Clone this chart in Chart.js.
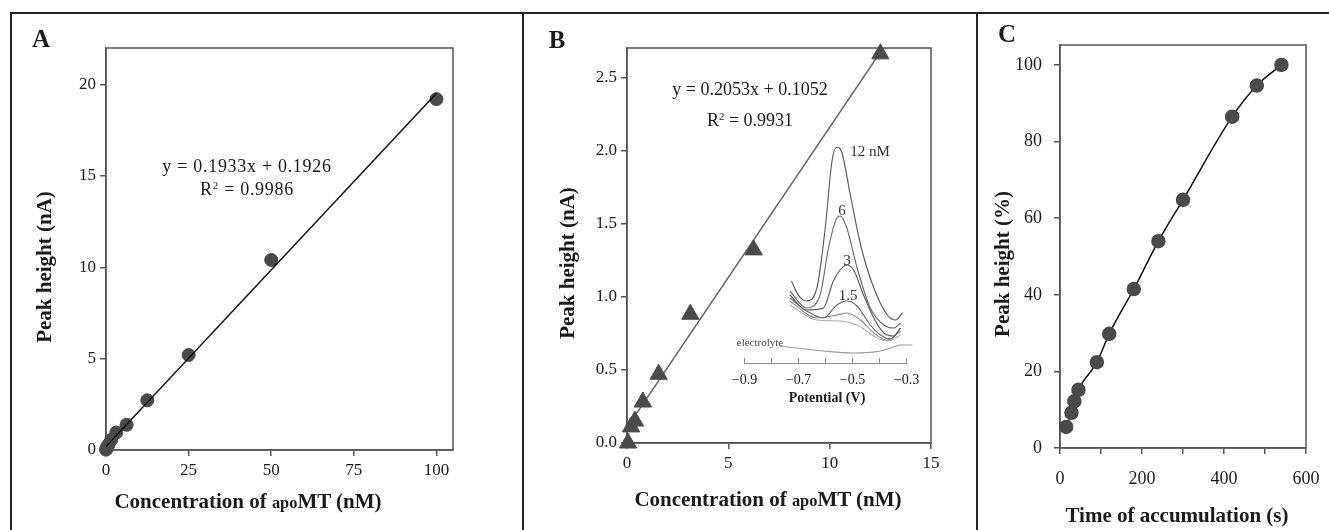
<!DOCTYPE html>
<html>
<head>
<meta charset="utf-8">
<script src="https://cdn.jsdelivr.net/npm/chart.js@4.4.1/dist/chart.umd.min.js"></script>
<style>
  html, body { margin: 0; padding: 0; background: #fff; }
  #wrap { position: relative; width: 1329px; height: 530px; overflow: hidden; font-family: "Liberation Serif", "Times New Roman", serif; color: #1a1a1a; }
  canvas { position: absolute; }
  .rule { position: absolute; background: #222; }
  .txt { position: absolute; transform: translate(-50%, -50%); white-space: nowrap; line-height: 1; }
  .ytitle { transform: translate(-50%, -50%) rotate(-90deg); }
  .bold { font-weight: bold; }
  .apo { font-size: 0.78em; }
  sup { font-size: 0.6em; vertical-align: 0.55em; line-height: 0; }
</style>
</head>
<body>
<div id="wrap">
  <div class="rule" style="left:11px; top:12px; width:1318px; height:2px;"></div>
  <div class="rule" style="left:10px; top:12px; width:2px; height:518px;"></div>
  <div class="rule" style="left:522px; top:12px; width:2px; height:518px;"></div>
  <div class="rule" style="left:976px; top:12px; width:2px; height:518px;"></div>

  <canvas id="chart-a" width="523" height="530" style="left:0; top:0;"></canvas>
  <canvas id="chart-b" width="454" height="530" style="left:523px; top:0;"></canvas>
  <canvas id="chart-inset" width="250" height="300" style="left:690px; top:120px;"></canvas>
  <canvas id="chart-c" width="352" height="530" style="left:977px; top:0;"></canvas>

  <!-- panel A texts -->
  <div class="txt bold" style="left:41px; top:38px; font-size:25px;">A</div>
  <div class="txt" style="left:247px; top:166px; font-size:18px; letter-spacing:0.7px;">y = 0.1933x + 0.1926</div>
  <div class="txt" style="left:247px; top:189px; font-size:18px; letter-spacing:0.7px;">R<sup>2</sup> = 0.9986</div>
  <div class="txt bold ytitle" style="left:44px; top:267px; font-size:21px;">Peak height (nA)</div>
  <div class="txt bold" style="left:248px; top:501px; font-size:21px;">Concentration of <span class="apo">apo</span>MT (nM)</div>

  <!-- panel B texts -->
  <div class="txt bold" style="left:557px; top:39px; font-size:25px;">B</div>
  <div class="txt" style="left:750px; top:89px; font-size:18px;">y = 0.2053x + 0.1052</div>
  <div class="txt" style="left:750px; top:120px; font-size:18px;">R<sup>2</sup> = 0.9931</div>
  <div class="txt bold ytitle" style="left:567px; top:263px; font-size:21px;">Peak height (nA)</div>
  <div class="txt bold" style="left:768px; top:499px; font-size:21px;">Concentration of <span class="apo">apo</span>MT (nM)</div>
  <div class="txt" style="left:870px; top:151px; font-size:15px; color:#333;">12 nM</div>
  <div class="txt" style="left:842px; top:210px; font-size:15px; color:#333;">6</div>
  <div class="txt" style="left:847px; top:260px; font-size:15px; color:#333;">3</div>
  <div class="txt" style="left:848px; top:295px; font-size:15px; color:#333;">1.5</div>
  <div class="txt" style="left:760px; top:342px; font-size:11px; color:#444;">electrolyte</div>
  <div class="txt bold" style="left:827px; top:398px; font-size:14px;">Potential (V)</div>

  <!-- panel C texts -->
  <div class="txt bold" style="left:1007px; top:33px; font-size:25px;">C</div>
  <div class="txt bold ytitle" style="left:1002px; top:264px; font-size:21px;">Peak height (%)</div>
  <div class="txt bold" style="left:1177px; top:515px; font-size:21px;">Time of accumulation (s)</div>
</div>

<script>
  // --- A: calibration 0-100 nM
  const concA = [0, 0.2, 0.39, 0.78, 1.56, 3.125, 6.25, 12.5, 25, 50, 100];
  const peakA = [0.02, 0.1, 0.18, 0.3, 0.55, 0.96, 1.38, 2.72, 5.2, 10.4, 19.2];
  const fitA_x = [0, 100];
  const fitA_y = [0.19, 19.52];
  const ticksA_x = [0, 25, 50, 75, 100];
  const ticksA_y = [0, 5, 10, 15, 20];

  // --- B: low range calibration
  const concB = [0.05, 0.2, 0.39, 0.78, 1.56, 3.125, 6.25, 12.5];
  const peakB = [0.0, 0.11, 0.15, 0.28, 0.47, 0.88, 1.32, 2.66];
  const fitB_x = [0, 12.64];
  const fitB_y = [0.105, 2.7];

  // --- B inset: voltammograms (current in arbitrary units)
  const pot12 = [-0.726, -0.701, -0.670, -0.632, -0.601, -0.576, -0.558, -0.539, -0.508, -0.470, -0.421, -0.371, -0.340, -0.315];
  const cur12 = [8.2, 6.8, 6.2, 7.5, 13.5, 20.2, 21.6, 21.0, 16.8, 11.8, 7.5, 4.8, 4.3, 5.0];
  const pot6 = [-0.732, -0.670, -0.620, -0.589, -0.558, -0.546, -0.521, -0.483, -0.434, -0.384, -0.347, -0.322];
  const cur6 = [7.2, 5.5, 6.8, 11.5, 14.5, 14.7, 13.5, 9.5, 5.5, 3.8, 3.5, 4.0];
  const pot3 = [-0.732, -0.670, -0.608, -0.571, -0.546, -0.521, -0.496, -0.459, -0.421, -0.384, -0.347, -0.322];
  const cur3 = [6.8, 5.3, 5.5, 8.2, 9.3, 9.8, 9.3, 6.8, 4.5, 3.0, 2.7, 3.5];
  const pot15 = [-0.732, -0.670, -0.608, -0.558, -0.521, -0.483, -0.434, -0.396, -0.359, -0.322];
  const cur15 = [6.5, 5.2, 4.5, 5.8, 6.2, 5.7, 3.8, 2.8, 2.4, 3.5];
  const pot08 = [-0.732, -0.633, -0.558, -0.521, -0.471, -0.421, -0.371, -0.322];
  const cur08 = [6.2, 4.5, 4.8, 5.0, 4.3, 3.0, 2.3, 3.2];
  const pot04 = [-0.732, -0.633, -0.546, -0.483, -0.421, -0.371, -0.322];
  const cur04 = [5.8, 4.3, 4.2, 3.8, 2.7, 2.2, 2.8];
  const potEl = [-0.769, -0.608, -0.496, -0.396, -0.359, -0.322, -0.278];
  const curEl = [1.7, 1.2, 1.0, 1.2, 1.5, 1.8, 1.8];
  const insetTicks = [-0.9, -0.8, -0.7, -0.6, -0.5, -0.4, -0.3];
  const insetLabels = [-0.9, -0.7, -0.5, -0.3];

  // --- C: accumulation time
  const timeC = [15, 28, 35, 45, 90, 120, 180, 240, 300, 420, 480, 540];
  const peakC = [5.5, 9.2, 12.2, 15.2, 22.4, 29.8, 41.5, 54, 64.8, 86.5, 94.6, 100];
  const ticksC_x = [0, 100, 200, 300, 400, 500, 600];
  const labelsC_x = [0, 200, 400, 600];
  const ticksC_y = [0, 20, 40, 60, 80, 100];

  Chart.defaults.font.family = '"Liberation Serif", "Times New Roman", serif';
  Chart.defaults.color = "#1a1a1a";
  Chart.defaults.animation = false;
  Chart.defaults.plugins.legend.display = false;
  Chart.defaults.plugins.tooltip.enabled = false;

  const AXIS_COLOR = "#555";

  const zip = (xs, ys) => xs.map((x, i) => ({ x, y: ys[i] }));

  // box around the plot area (top + right sides)
  const boxFrame = {
    id: "boxFrame",
    beforeDatasetsDraw(chart) {
      const { ctx, chartArea: a } = chart;
      ctx.save();
      ctx.strokeStyle = AXIS_COLOR;
      ctx.lineWidth = 1.5;
      ctx.strokeRect(a.left, a.top, a.right - a.left, a.bottom - a.top);
      ctx.restore();
    },
  };

  // fixed axis sizes so the plot area lands where the figure has it
  function fixSize(size) {
    return (scale) => {
      if (scale.isHorizontal()) scale.height = size;
      else scale.width = size;
      scale.paddingLeft = scale.paddingRight = 0;
      scale.paddingTop = scale.paddingBottom = 0;
    };
  }

  function pinTicks(values) {
    return (scale) => {
      scale.ticks = values.map((v) => ({ value: v }));
    };
  }

  function axis(min, max, tickValues, opts) {
    return {
      type: "linear",
      min,
      max,
      afterBuildTicks: pinTicks(tickValues),
      afterFit: fixSize(opts.size),
      ticks: {
        autoSkip: false,
        maxRotation: 0,
        padding: opts.pad,
        font: { size: opts.font },
        color: "#1a1a1a",
        callback: opts.cb || ((v) => v),
      },
      grid: {
        drawOnChartArea: false,
        drawTicks: true,
        tickLength: 6,
        color: AXIS_COLOR,
        lineWidth: 1.5,
      },
      border: { color: AXIS_COLOR, width: 1.5 },
    };
  }

  // panel A
  new Chart(document.getElementById("chart-a"), {
    type: "scatter",
    data: {
      datasets: [
        {
          data: zip(fitA_x, fitA_y),
          showLine: true,
          borderColor: "#111",
          borderWidth: 1.5,
          pointRadius: 0,
          order: 0,
        },
        {
          data: zip(concA, peakA),
          backgroundColor: "#4a4a4a",
          borderColor: "#4a4a4a",
          pointRadius: 6.5,
          clip: false,
          order: 1,
        },
      ],
    },
    options: {
      responsive: false,
      devicePixelRatio: 1,
      layout: { padding: { left: 46, right: 70, top: 48, bottom: 40 } },
      scales: {
        x: axis(0, 105, ticksA_x, { size: 40, pad: 4, font: 17 }),
        y: axis(0, 22, ticksA_y, { size: 60, pad: 4, font: 17 }),
      },
    },
    plugins: [boxFrame],
  });

  // panel B
  new Chart(document.getElementById("chart-b"), {
    type: "scatter",
    data: {
      datasets: [
        {
          data: zip(fitB_x, fitB_y),
          showLine: true,
          borderColor: "#666",
          borderWidth: 1.5,
          pointRadius: 0,
          order: 1,
        },
        {
          data: zip(concB, peakB),
          pointStyle: "triangle",
          backgroundColor: "#4a4a4a",
          borderColor: "#4a4a4a",
          pointRadius: 10,
          clip: false,
          order: 0,
        },
      ],
    },
    options: {
      responsive: false,
      devicePixelRatio: 1,
      layout: { padding: { left: 44, right: 46, top: 48, bottom: 47 } },
      scales: {
        x: axis(0, 15, [0, 5, 10, 15], { size: 40, pad: 4, font: 17 }),
        y: axis(0, 2.7, [0, 0.5, 1, 1.5, 2, 2.5], {
          size: 60, pad: 4, font: 17, cb: (v) => v.toFixed(1),
        }),
      },
    },
    plugins: [boxFrame],
  });

  // inset in B: tick marks point up into the plot
  const upTicks = {
    id: "upTicks",
    afterDraw(chart) {
      const s = chart.scales.x;
      const ctx = chart.ctx;
      ctx.save();
      ctx.strokeStyle = "#888";
      ctx.lineWidth = 1;
      ctx.beginPath();
      insetTicks.forEach((v) => {
        const px = s.getPixelForValue(v);
        ctx.moveTo(px, s.top);
        ctx.lineTo(px, s.top - 5);
      });
      ctx.stroke();
      ctx.restore();
    },
  };

  const insetCurves = [
    [pot12, cur12, "#555"],
    [pot6, cur6, "#666"],
    [pot3, cur3, "#555"],
    [pot15, cur15, "#666"],
    [pot08, cur08, "#888"],
    [pot04, cur04, "#aaa"],
    [potEl, curEl, "#999"],
  ];

  new Chart(document.getElementById("chart-inset"), {
    type: "scatter",
    data: {
      datasets: insetCurves.map(([xs, ys, col]) => ({
        data: zip(xs, ys),
        showLine: true,
        borderColor: col,
        borderWidth: 1.1,
        pointRadius: 0,
        cubicInterpolationMode: "monotone",
        clip: false,
      })),
    },
    options: {
      responsive: false,
      devicePixelRatio: 1,
      layout: { padding: { left: 54.5, right: 33.5, top: 13, bottom: 17 } },
      scales: {
        x: {
          type: "linear",
          min: -0.9,
          max: -0.3,
          afterBuildTicks: pinTicks(insetLabels),
          afterFit: fixSize(40),
          ticks: {
            autoSkip: false,
            maxRotation: 0,
            padding: 1,
            font: { size: 14 },
            color: "#1a1a1a",
            callback: (v) => "\u2212" + Math.abs(v).toFixed(1),
          },
          grid: { display: false, drawTicks: true, tickLength: 8 },
          border: { color: "#888", width: 1 },
        },
        y: { display: false, min: 0, max: 23 },
      },
    },
    plugins: [upTicks],
  });

  // panel C
  new Chart(document.getElementById("chart-c"), {
    type: "scatter",
    data: {
      datasets: [
        {
          data: zip(timeC, peakC),
          showLine: true,
          cubicInterpolationMode: "monotone",
          borderColor: "#111",
          borderWidth: 1.5,
          backgroundColor: "#4a4a4a",
          pointBorderColor: "#4a4a4a",
          pointRadius: 6.5,
          clip: false,
        },
      ],
    },
    options: {
      responsive: false,
      devicePixelRatio: 1,
      layout: { padding: { left: 23, right: 23, top: 45, bottom: 37 } },
      scales: {
        x: axis(0, 600, ticksC_x, {
          size: 45, pad: 14, font: 18,
          cb: (v) => (labelsC_x.includes(v) ? v : ""),
        }),
        y: axis(0, 105.2, ticksC_y, { size: 60, pad: 12, font: 18 }),
      },
    },
    plugins: [boxFrame],
  });
</script>
</body>
</html>
